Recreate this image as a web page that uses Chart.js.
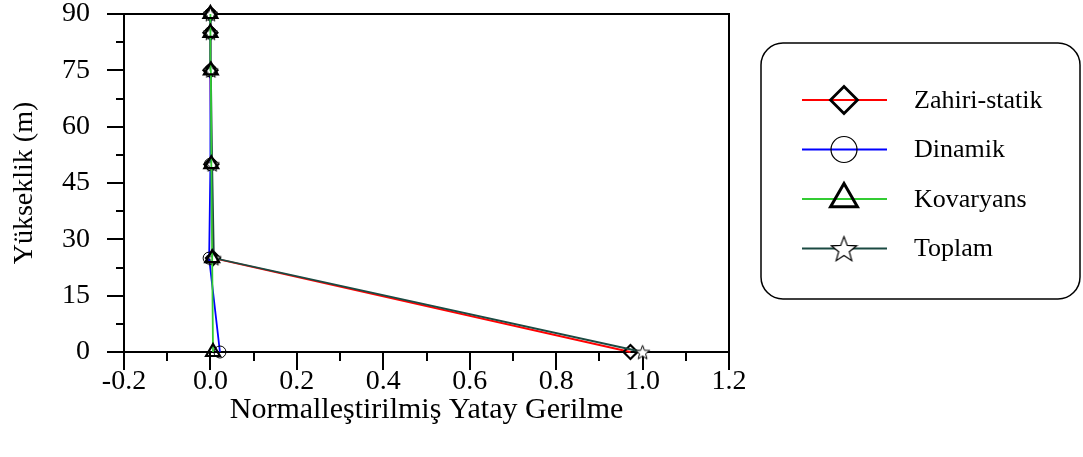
<!DOCTYPE html>
<html>
<head>
<meta charset="utf-8">
<script src="https://cdn.jsdelivr.net/npm/chart.js@4.4.1/dist/chart.umd.min.js"></script>
<style>
  html, body { margin: 0; padding: 0; background: #fff; }
  #wrap { width: 1083px; height: 457px; }
</style>
</head>
<body>
<div id="wrap"><canvas id="c" width="1083" height="457"></canvas></div>
<script>
// Heights along the structure (m) and normalised horizontal stress per component
const heights = [0, 25, 50, 75, 85, 90];
const zahiriStatik = [0.972, 0.006, 0.002, 0.0, 0.0, 0.0];
const dinamik = [0.022, -0.003, 0.0, 0.0, 0.0, 0.0];
const kovaryans = [0.006, 0.004, 0.002, 0.001, 0.0, 0.0];
const toplam = [1.0, 0.008, 0.004, 0.001, 0.0, 0.0];

const seriesNames = ['Zahiri-statik', 'Dinamik', 'Kovaryans', 'Toplam'];
const xTicks = [-0.2, 0.0, 0.2, 0.4, 0.6, 0.8, 1.0, 1.2];
const yTicks = [0, 15, 30, 45, 60, 75, 90];
const xTitle = 'Normalleştirilmiş Yatay Gerilme';
const yTitle = 'Yükseklik (m)';

const FONT = "'Liberation Serif', 'Times New Roman', serif";

// Five-pointed star marker (white fill, thin black outline)
function makeStar(size, lw) {
  const c = document.createElement('canvas');
  c.width = size; c.height = size;
  const g = c.getContext('2d');
  const cx = size / 2, cy = size / 2 + size * 0.05;
  const R = size / 2 - lw, r = R * 0.42;
  g.beginPath();
  for (let i = 0; i < 10; i++) {
    const a = -Math.PI / 2 + i * Math.PI / 5;
    const rad = i % 2 ? r : R;
    g.lineTo(cx + rad * Math.cos(a), cy + rad * Math.sin(a));
  }
  g.closePath();
  g.fillStyle = '#fff';
  g.fill();
  g.lineWidth = lw;
  g.strokeStyle = '#000';
  g.stroke();
  return c;
}
const starSmall = makeStar(17, 1);
const starLarge = makeStar(29, 1.2);

const toPoints = vals => vals.map((v, i) => ({ x: v, y: heights[i] }));

const styles = [
  { color: '#ff0000', pointStyle: 'rectRot', radius: 7, bw: 2.2, legendRadius: 13.5, legendBw: 2.8 },
  { color: '#0000ff', pointStyle: 'circle', radius: 6, bw: 1, legendRadius: 13, legendBw: 1.2 },
  { color: '#33cc33', pointStyle: 'triangle', radius: 8, bw: 2.2, legendRadius: 15.5, legendBw: 3 },
  { color: '#1b4a42', pointStyle: starSmall, radius: 8, bw: 1, legendStyle: starLarge, legendRadius: 14, legendBw: 1 }
];
const seriesValues = [zahiriStatik, dinamik, kovaryans, toplam];
const drawOrder = [4, 3, 1, 2];

const datasets = seriesNames.map((name, i) => ({
  label: name,
  data: toPoints(seriesValues[i]),
  showLine: true,
  borderColor: styles[i].color,
  backgroundColor: styles[i].color,
  borderWidth: 1.8,
  tension: 0,
  pointStyle: styles[i].pointStyle,
  pointRadius: styles[i].radius,
  pointBorderColor: '#000',
  pointBackgroundColor: 'rgba(255,255,255,0)',
  pointBorderWidth: styles[i].bw,
  clip: false,
  order: drawOrder[i]
}));

// Frame, outward major/minor ticks
const framePlugin = {
  id: 'frame',
  beforeDatasetsDraw(chart) {
    const { ctx, chartArea: a, scales: { x, y } } = chart;
    ctx.save();
    ctx.strokeStyle = '#000';
    ctx.lineWidth = 2;
    ctx.strokeRect(a.left, a.top, a.right - a.left, a.bottom - a.top);
    ctx.beginPath();
    for (let k = 0; k <= 12; k++) {
      const v = k * 7.5;
      const py = Math.round(y.getPixelForValue(v));
      const len = k % 2 === 0 ? 17 : 8;
      ctx.moveTo(a.left - len, py);
      ctx.lineTo(a.left, py);
    }
    for (let k = 0; k <= 14; k++) {
      const v = -0.2 + k * 0.1;
      const px = Math.round(x.getPixelForValue(v));
      const len = k % 2 === 0 ? 18 : 9;
      ctx.moveTo(px, a.bottom);
      ctx.lineTo(px, a.bottom + len);
    }
    ctx.stroke();
    ctx.restore();
  }
};

// Boxed legend with line + marker samples
const legendPlugin = {
  id: 'boxLegend',
  afterDraw(chart) {
    const ctx = chart.ctx;
    const bx = 761, by = 43, bw = 319, bh = 256, br = 22;
    ctx.save();
    ctx.beginPath();
    ctx.roundRect(bx, by, bw, bh, br);
    ctx.lineWidth = 1.5;
    ctx.strokeStyle = '#000';
    ctx.stroke();
    const rows = [100, 149.5, 199, 248.5];
    const drawPoint = Chart.helpers.drawPoint;
    seriesNames.forEach((name, i) => {
      const yy = rows[i];
      ctx.beginPath();
      ctx.moveTo(802, yy);
      ctx.lineTo(887, yy);
      ctx.lineWidth = 1.8;
      ctx.strokeStyle = styles[i].color;
      ctx.stroke();
      ctx.strokeStyle = '#000';
      ctx.fillStyle = 'rgba(255,255,255,0)';
      ctx.lineWidth = styles[i].legendBw;
      drawPoint(ctx, {
        pointStyle: styles[i].legendStyle || styles[i].pointStyle,
        radius: styles[i].legendRadius,
        rotation: 0,
        borderWidth: styles[i].legendBw
      }, 844, yy);
      ctx.fillStyle = '#000';
      ctx.font = '26px ' + FONT;
      ctx.textAlign = 'left';
      ctx.textBaseline = 'middle';
      ctx.fillText(name, 914, yy + 1);
    });
    ctx.restore();
  }
};

// Invisible tick marks only reserve the gap between axis and labels
const hiddenTickGrid = len => ({
  display: true,
  drawOnChartArea: false,
  drawTicks: true,
  tickLength: len,
  tickColor: 'rgba(0,0,0,0)',
  color: 'rgba(0,0,0,0)'
});

new Chart(document.getElementById('c'), {
  type: 'scatter',
  data: { datasets },
  options: {
    responsive: false,
    animation: false,
    devicePixelRatio: 1,
    layout: { padding: { top: 14, right: 354, bottom: 0, left: 0 } },
    plugins: { legend: { display: false }, tooltip: { enabled: false } },
    scales: {
      x: {
        type: 'linear',
        min: -0.2,
        max: 1.2,
        afterBuildTicks: s => { s.ticks = xTicks.map(v => ({ value: v })); },
        afterFit: s => { s.height = 105; },
        ticks: {
          callback: v => Number(v).toFixed(1),
          font: { family: FONT, size: 28, lineHeight: 1 },
          color: '#000',
          padding: 0,
          maxRotation: 0,
          autoSkip: false
        },
        grid: hiddenTickGrid(16),
        border: { display: false },
        title: {
          display: true,
          text: xTitle,
          color: '#000',
          font: { family: FONT, size: 30 },
          padding: { top: 0, bottom: 29 }
        }
      },
      y: {
        type: 'linear',
        min: 0,
        max: 90,
        afterBuildTicks: s => { s.ticks = yTicks.map(v => ({ value: v })); },
        afterFit: s => { s.width = 124; },
        ticks: {
          font: { family: FONT, size: 28, lineHeight: 1 },
          color: '#000',
          padding: 0,
          autoSkip: false
        },
        grid: hiddenTickGrid(34),
        border: { display: false },
        title: {
          display: true,
          text: yTitle,
          color: '#000',
          font: { family: FONT, size: 28 },
          padding: { top: 8, bottom: 0 }
        }
      }
    }
  },
  plugins: [framePlugin, legendPlugin]
});
</script>
</body>
</html>
